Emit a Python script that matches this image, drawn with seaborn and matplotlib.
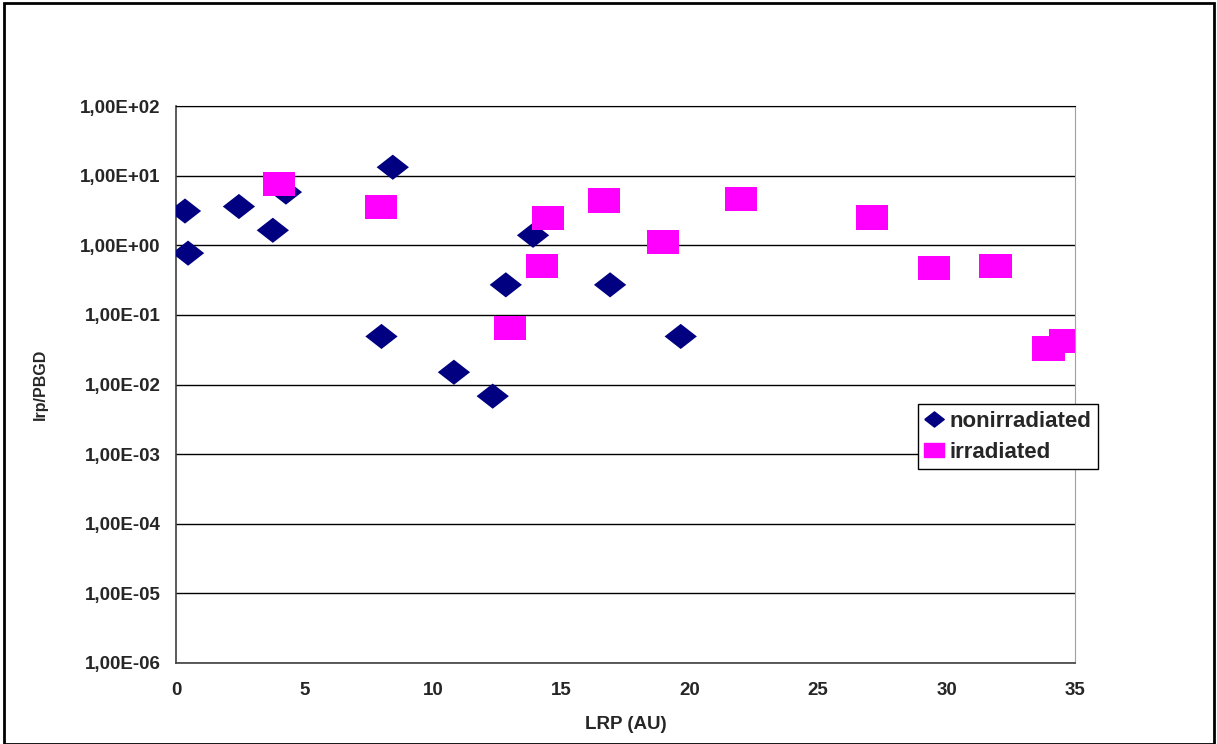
import numpy as np
import pandas as pd
import matplotlib
matplotlib.use("Agg")
import matplotlib.pyplot as plt
import seaborn as sns
from matplotlib.patches import Rectangle

# values
nonirr_x = [0.35, 0.47, 2.45, 3.77, 4.28, 8.44, 8.0, 10.82, 12.33, 12.84, 13.9, 16.9, 19.65]
nonirr_y = [3.1, 0.77, 3.6, 1.64, 5.8, 13.2, 0.049, 0.015, 0.0068, 0.27, 1.39, 0.27, 0.049]

irr_x = [4.0, 7.98, 13.0, 14.24, 14.47, 16.65, 18.95, 22.0, 27.1, 29.5, 31.9, 33.97, 34.6]
irr_y = [7.5, 3.5, 0.064, 0.50, 2.44, 4.4, 1.1, 4.6, 2.5, 0.47, 0.50, 0.033, 0.042]

y_ticks = [1e-6, 1e-5, 1e-4, 1e-3, 1e-2, 1e-1, 1e0, 1e1, 1e2]
y_tick_labels = ["1,00E-06", "1,00E-05", "1,00E-04", "1,00E-03", "1,00E-02",
                 "1,00E-01", "1,00E+00", "1,00E+01", "1,00E+02"]
x_ticks = [0, 5, 10, 15, 20, 25, 30, 35]

df = pd.concat([
    pd.DataFrame({"LRP": nonirr_x, "ratio": nonirr_y, "group": "nonirradiated"}),
    pd.DataFrame({"LRP": irr_x, "ratio": irr_y, "group": "irradiated"}),
])

sns.set_style("white")
plt.rcParams["font.family"] = ["Liberation Sans", "DejaVu Sans"]
plt.rcParams["font.weight"] = "bold"

# excel-like squashed markers
diamond = [(-1, 0), (0, 0.78), (1, 0), (0, -0.78), (-1, 0)]
box = [(-1, -0.75), (1, -0.75), (1, 0.75), (-1, 0.75), (-1, -0.75)]

fig = plt.figure(figsize=(12.17, 7.44), dpi=100)
ax = fig.add_axes([176 / 1217, 81 / 744, 899 / 1217, 557 / 744])

sns.scatterplot(data=df, x="LRP", y="ratio", hue="group", style="group",
                palette={"nonirradiated": "#000080", "irradiated": "#FF00FF"},
                markers={"nonirradiated": diamond, "irradiated": box},
                s=540, linewidth=0, ax=ax, legend=False, zorder=3)

ax.set_yscale("log")
ax.set_ylim(1e-6, 1e2)
ax.set_xlim(0, 35)
ax.set_yticks(y_ticks)
ax.set_yticklabels(y_tick_labels)
ax.minorticks_off()
ax.set_xticks(x_ticks)
ax.tick_params(axis="both", direction="out", length=6, width=1, color="#404040",
               labelsize=13.5, pad=5)
ax.tick_params(axis="x", pad=8)
for lab in ax.get_xticklabels() + ax.get_yticklabels():
    lab.set_fontweight("bold")

ax.yaxis.grid(True, color="black", linewidth=1)
ax.set_axisbelow(True)
for side in ["left", "bottom"]:
    ax.spines[side].set_color("#404040")
    ax.spines[side].set_linewidth(1.2)
ax.spines["right"].set_color("#a0a0a0")
ax.spines["top"].set_color("black")

ax.set_xlabel("LRP (AU)", fontsize=13.5, fontweight="bold", labelpad=12)
ax.set_ylabel("lrp/PBGD", fontsize=11.5, fontweight="bold")
ax.yaxis.set_label_coords(-0.142, 0.5)

handles = [
    plt.Line2D([], [], marker=diamond, color="#000080", linestyle="", markersize=14),
    plt.Line2D([], [], marker=box, color="#FF00FF", linestyle="", markersize=14),
]
leg = fig.legend(handles, ["nonirradiated", "irradiated"], loc="upper left",
                 bbox_to_anchor=(918 / 1217, 1 - 404 / 744), fancybox=False,
                 framealpha=1, edgecolor="black", borderpad=0.3, handlelength=0.8,
                 handletextpad=0.3, labelspacing=0.45, borderaxespad=0,
                 prop={"size": 16, "weight": "bold"})
leg.get_frame().set_linewidth(1)

fig.patches.append(Rectangle((4 / 1217, 0), 1210 / 1217, 741 / 744,
                             transform=fig.transFigure, fill=False,
                             edgecolor="black", linewidth=2))

fig.savefig("out.png", dpi=100)
